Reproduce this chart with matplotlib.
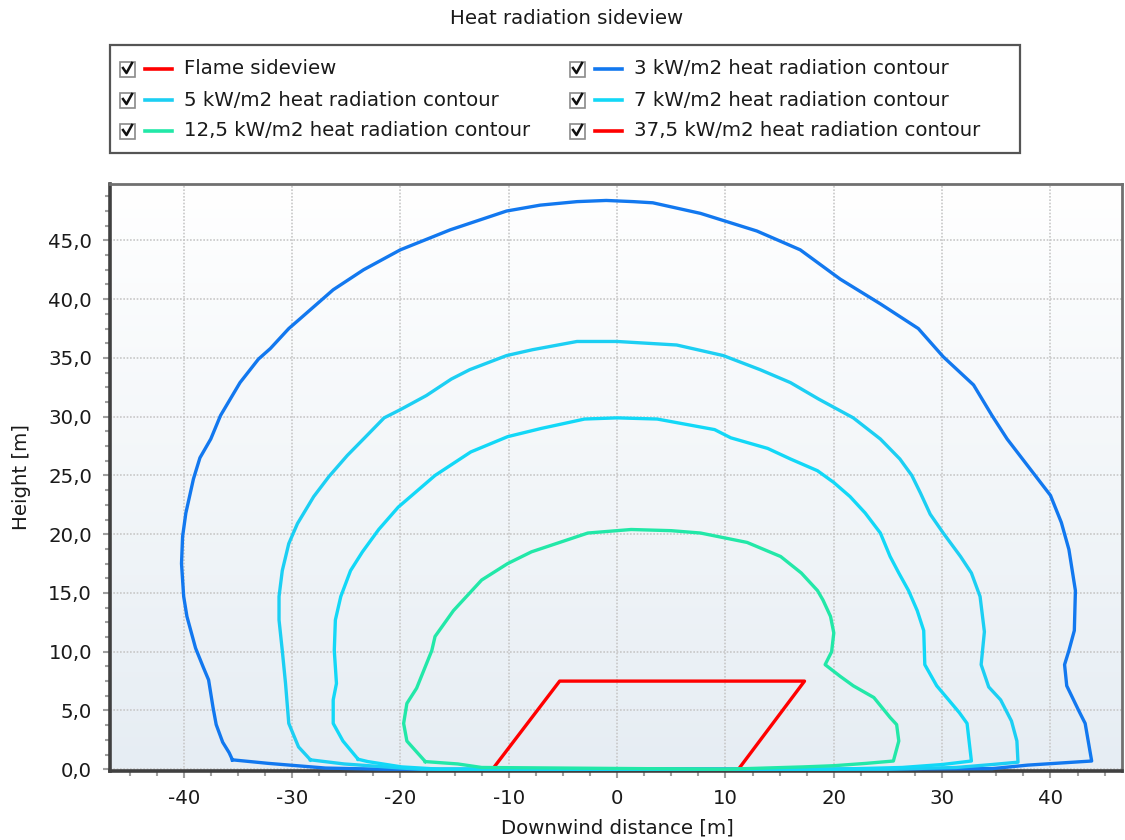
import numpy as np
import matplotlib
matplotlib.use("Agg")
import matplotlib.pyplot as plt
from matplotlib.lines import Line2D
from matplotlib.patches import Rectangle
from matplotlib.colors import LinearSegmentedColormap
from matplotlib.ticker import MultipleLocator, FuncFormatter

# ---- data: flame outline and heat radiation contours (x = downwind distance, y = height, m)
flame_x = [-11.5, -5.3, 17.3, 11.2, -11.5]
flame_y = [0.0, 7.5, 7.5, 0.0, 0.0]

c3_x = [-35.5, -35.8, -36.4, -37.0, -37.3, -37.7, -38.2, -38.9, -39.7, -40.0, -40.2, -40.1,
        -39.8, -39.1, -38.5, -37.5, -36.6, -34.8, -33.1, -32.0, -30.3, -29.3, -26.2, -23.4,
        -20.0, -15.4, -10.2, -7.1, -3.7, -1.0, 1.5, 3.3, 7.7, 12.9, 16.9, 20.6, 24.3, 27.8,
        30.1, 32.9, 34.6, 36.0, 38.5, 40.0, 41.0, 41.7, 42.3, 42.2, 41.7, 41.3, 41.5, 42.6,
        43.2, 43.8, 37.9, 34.6, 20.0, -21.6, -26.9, -32.2, -35.5]
c3_y = [0.8, 1.4, 2.3, 3.8, 5.3, 7.6, 8.7, 10.3, 13.0, 14.7, 17.5, 19.8,
        21.8, 24.7, 26.5, 28.1, 30.1, 32.9, 34.9, 35.8, 37.5, 38.3, 40.8, 42.5,
        44.2, 45.9, 47.5, 48.0, 48.3, 48.4, 48.3, 48.2, 47.3, 45.8, 44.2, 41.7, 39.6, 37.5,
        35.1, 32.7, 30.1, 28.1, 25.1, 23.3, 21.0, 18.7, 15.2, 11.8, 10.1, 8.9, 7.1, 5.0,
        3.9, 0.7, 0.35, 0.05, 0.0, 0.0, 0.1, 0.5, 0.8]

c5_x = [-28.3, -29.4, -30.3, -30.6, -30.9, -31.2, -31.2, -30.9, -30.3, -29.5, -28.0, -26.6,
        -24.9, -23.3, -21.5, -20.0, -17.6, -15.3, -13.6, -10.2, -7.8, -3.7, 0.0, 5.5, 9.8,
        13.2, 16.0, 18.6, 21.8, 24.3, 26.1, 27.2, 28.0, 28.9, 30.1, 31.7, 32.7, 33.5, 33.9,
        33.6, 34.3, 35.4, 36.4, 36.9, 37.0, 34.6, 31.3, 25.0, -18.0, -19.9, -25.2, -28.3]
c5_y = [0.8, 1.9, 3.9, 7.3, 10.1, 12.7, 14.7, 16.9, 19.2, 20.9, 23.2, 24.9,
        26.7, 28.2, 29.9, 30.6, 31.8, 33.2, 34.0, 35.2, 35.7, 36.4, 36.4, 36.1, 35.2,
        34.0, 32.9, 31.5, 29.9, 28.1, 26.4, 25.0, 23.5, 21.7, 20.1, 18.1, 16.7, 14.7, 11.7,
        8.9, 7.0, 5.9, 4.1, 2.4, 0.6, 0.4, 0.15, 0.0, 0.0, 0.1, 0.45, 0.8]

c7_x = [-23.9, -25.3, -26.2, -26.2, -25.9, -26.1, -26.0, -25.5, -24.6, -23.5, -22.0, -20.2,
        -16.8, -13.5, -10.1, -7.0, -3.0, 0.0, 3.7, 9.0, 10.5, 13.9, 16.0, 18.5, 20.0, 21.5,
        22.9, 24.3, 25.2, 26.0, 26.9, 27.7, 28.3, 28.4, 29.5, 30.6, 31.6, 32.3, 32.7, 30.0,
        26.3, 20.0, -16.3, -19.9, -23.0, -23.9]
c7_y = [0.85, 2.4, 3.9, 5.9, 7.3, 10.1, 12.7, 14.7, 16.9, 18.5, 20.4, 22.3,
        25.0, 27.0, 28.3, 29.0, 29.8, 29.9, 29.8, 28.9, 28.2, 27.3, 26.4, 25.4, 24.4, 23.2,
        21.8, 20.1, 18.1, 16.7, 15.2, 13.5, 11.8, 8.9, 7.1, 5.9, 4.8, 3.9, 0.7, 0.4,
        0.15, 0.0, 0.0, 0.2, 0.65, 0.85]

c12_x = [-17.7, -19.4, -19.7, -19.4, -18.5, -17.1, -16.8, -15.1, -14.2, -12.5, -10.1, -7.9,
         -2.7, 1.3, 5.0, 7.7, 12.0, 15.1, 17.0, 18.5, 19.0, 19.7, 20.0, 19.8, 19.2, 20.6,
         21.8, 23.7, 25.2, 25.8, 26.0, 25.5, 23.0, 20.0, 17.2, 10.0, -12.5, -14.7, -17.7]
c12_y = [0.65, 2.4, 3.9, 5.6, 6.9, 10.1, 11.3, 13.5, 14.4, 16.1, 17.5, 18.5,
         20.1, 20.4, 20.3, 20.1, 19.3, 18.1, 16.7, 15.2, 14.4, 13.0, 11.6, 10.0, 8.9, 7.9,
         7.1, 6.1, 4.4, 3.8, 2.4, 0.7, 0.5, 0.3, 0.2, 0.0, 0.15, 0.45, 0.65]

c37_x = []
c37_y = []

series_labels = ["Flame sideview", "3 kW/m2 heat radiation contour",
                 "5 kW/m2 heat radiation contour", "7 kW/m2 heat radiation contour",
                 "12,5 kW/m2 heat radiation contour", "37,5 kW/m2 heat radiation contour"]
series_colors = ["#ff0000", "#1278ef", "#1ccff3", "#12d8f7", "#22e8a8", "#ff0000"]
series_x = [flame_x, c3_x, c5_x, c7_x, c12_x, c37_x]
series_y = [flame_y, c3_y, c5_y, c7_y, c12_y, c37_y]

x_ticks = [-40, -30, -20, -10, 0, 10, 20, 30, 40]
y_ticks = [0, 5, 10, 15, 20, 25, 30, 35, 40, 45]

# ---- figure
W, H = 1125, 840
FS = 14.2
plt.rcParams["font.family"] = ["DejaVu Sans"]
fig = plt.figure(figsize=(W / 100, H / 100), dpi=100)
fig.patch.set_facecolor("white")


def fx(px):
    return px / W


def fy(py):
    return 1 - py / H


ax = fig.add_axes([fx(110), fy(771), (1122 - 110) / W, (771 - 184) / H])
xmin, xmax, ymin, ymax = -46.8, 46.6, -0.15, 49.8

bg = LinearSegmentedColormap.from_list("bg", ["#ffffff", "#e6edf3"])
ax.imshow(np.linspace(0, 1, 256).reshape(-1, 1), cmap=bg, aspect="auto",
          extent=[xmin, xmax, ymin, ymax], origin="upper", zorder=0)

for xs, ys, col in zip(series_x, series_y, series_colors):
    if len(xs):
        ax.plot(xs, ys, color=col, lw=2.4, solid_joinstyle="round", zorder=3)

ax.set_xlim(xmin, xmax)
ax.set_ylim(ymin, ymax)
ax.set_xticks(x_ticks)
ax.set_yticks(y_ticks)
ax.xaxis.set_minor_locator(MultipleLocator(2.5))
ax.yaxis.set_minor_locator(MultipleLocator(1.25))
ax.yaxis.set_major_formatter(FuncFormatter(lambda v, p: f"{v:.1f}".replace(".", ",")))
ax.xaxis.set_major_formatter(FuncFormatter(lambda v, p: f"{v:.0f}"))
ax.tick_params(which="major", direction="out", length=5, width=1.5, color="#a0a0a0",
               labelsize=FS, labelcolor="#1a1a1a")
ax.tick_params(which="minor", direction="out", length=3.5, width=1.5, color="#a0a0a0")
ax.tick_params(axis="x", which="major", pad=8)
ax.tick_params(axis="y", which="major", pad=8)
ax.grid(True, which="major", linestyle=(0, (1, 1)), color="#c8c8c8", lw=1.2, zorder=1)
ax.set_axisbelow(True)
for side in ("left", "bottom"):
    ax.spines[side].set_color("#404040")
    ax.spines[side].set_linewidth(2.6)
for side in ("top", "right"):
    ax.spines[side].set_color("#707070")
    ax.spines[side].set_linewidth(2.0)

fig.text(fx(567), fy(18), "Heat radiation sideview", ha="center", va="center",
         fontsize=FS, color="#1a1a1a")
fig.text(fx(617), fy(828), "Downwind distance [m]", ha="center", va="center",
         fontsize=FS, color="#1a1a1a")
fig.text(fx(22), fy(477), "Height [m]", ha="center", va="center", rotation=90,
         fontsize=FS, color="#1a1a1a")

# ---- legend with check boxes
fig.patches.append(Rectangle((fx(110), fy(153)), 910 / W, 108 / H, transform=fig.transFigure,
                             facecolor="white", edgecolor="#555555", lw=1.6, zorder=1))
for i, (lab, col) in enumerate(zip(series_labels, series_colors)):
    row, colm = divmod(i, 2)
    yc = 69 + 31 * row
    x0 = 120 if colm == 0 else 570
    fig.patches.append(Rectangle((fx(x0), fy(yc + 8)), 15 / W, 15 / H, transform=fig.transFigure,
                                 facecolor="white", edgecolor="#8a8a8a", lw=1.2, zorder=2))
    fig.lines.append(Line2D([fx(x0 + 3), fx(x0 + 6.5), fx(x0 + 12)],
                            [fy(yc - 1), fy(yc + 4), fy(yc - 6)], transform=fig.transFigure,
                            color="#111111", lw=1.8, zorder=3))
    fig.lines.append(Line2D([fx(x0 + 25), fx(x0 + 52)], [fy(yc), fy(yc)],
                            transform=fig.transFigure, color=col, lw=2.6, zorder=3))
    fig.text(fx(x0 + 64), fy(yc), lab, ha="left", va="center", fontsize=FS, color="#1a1a1a")

fig.savefig("out.png", dpi=100)
